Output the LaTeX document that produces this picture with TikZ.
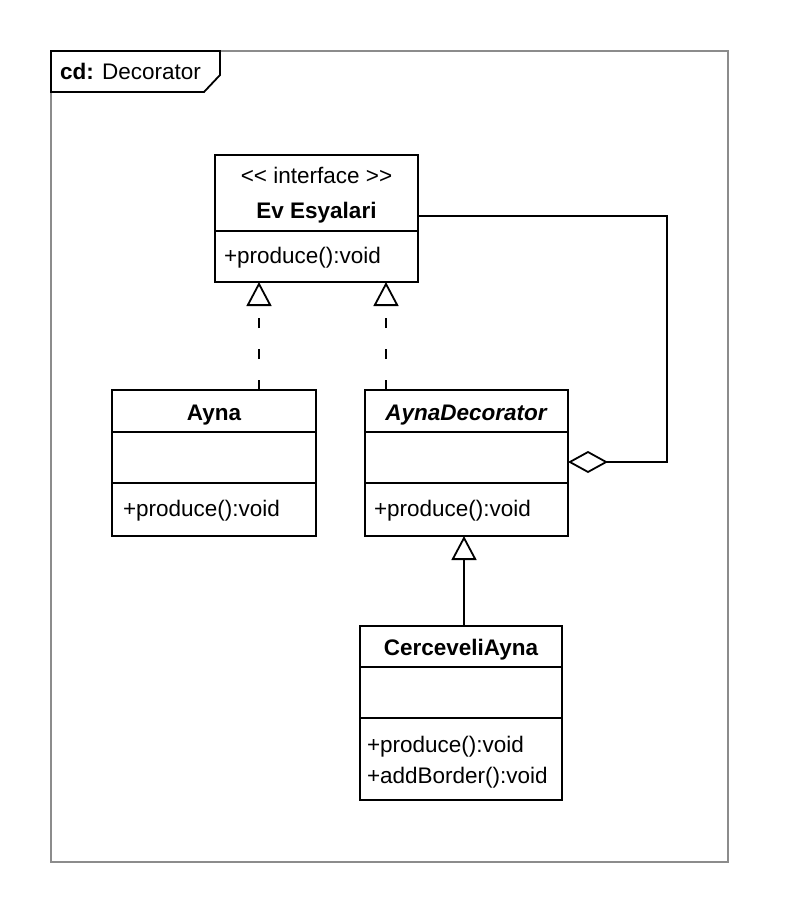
\documentclass[tikz,border=0pt]{standalone}
\usepackage{fontspec}
\setmainfont{Liberation Sans}
\usetikzlibrary{arrows.meta}
\begin{document}
\begin{tikzpicture}[x=1pt,y=-1pt,
  classbox/.style={draw=black, line width=1.8pt, fill=white, inner sep=0pt, outer sep=0pt, anchor=north west},
  txt/.style={inner sep=0pt, outer sep=0pt, font=\fontsize{22.5}{26}\selectfont},
  sepline/.style={draw=black, line width=1.8pt},
  conn/.style={draw=black, line width=1.8pt},
  realize/.style={conn, dash pattern=on 10pt off 21pt, -{Triangle[open, length=24pt, width=25pt]}},
  general/.style={conn, -{Triangle[open, length=24pt, width=25pt]}},
  aggreg/.style={conn, {Diamond[open, length=40pt, width=22pt]}-},
  frameline/.style={draw=black!45, line width=1.8pt}]
\useasboundingbox (0,0) rectangle (801,897);
% frame
\path[frameline] (51,51) rectangle (728,862);
\draw[black, line width=1.8pt, fill=white] (51,51) -- (220,51) -- (220,75) -- (204,92) -- (51,92) -- cycle;
\node[txt, anchor=base west] (hdrtxt) at (60,79) {\textbf{cd:} Decorator};
% class boxes
\node[classbox, minimum width=203pt, minimum height=127pt] (iface) at (215,155) {};
\node[classbox, minimum width=204pt, minimum height=146pt] (ayna) at (112,390) {};
\node[classbox, minimum width=203pt, minimum height=146pt] (adec) at (365,390) {};
\node[classbox, minimum width=202pt, minimum height=174pt] (cerc) at (360,626) {};
% separators
\coordinate (s1) at (0,231);
\coordinate (s2) at (0,432);
\coordinate (s3) at (0,483);
\coordinate (s4) at (0,667);
\coordinate (s5) at (0,718);
\draw[sepline] (iface.west |- s1) -- (iface.east |- s1);
\draw[sepline] (ayna.west |- s2) -- (ayna.east |- s2);
\draw[sepline] (ayna.west |- s3) -- (ayna.east |- s3);
\draw[sepline] (adec.west |- s2) -- (adec.east |- s2);
\draw[sepline] (adec.west |- s3) -- (adec.east |- s3);
\draw[sepline] (cerc.west |- s4) -- (cerc.east |- s4);
\draw[sepline] (cerc.west |- s5) -- (cerc.east |- s5);
% texts
\node[txt, anchor=base] (t1) at (316.5,183) {<\kern0pt< interface >\kern0pt>};
\node[txt, anchor=base] (t2) at (316.5,218) {\textbf{Ev Esyalari}};
\node[txt, anchor=base west] (t3) at (224,263) {+produce():void};
\node[txt, anchor=base] (t4) at (214,420) {\textbf{Ayna}};
\node[txt, anchor=base west] (t5) at (123,516) {+produce():void};
\node[txt, anchor=base] (t6) at (466.5,420) {\textbf{\textit{AynaDecorator}}};
\node[txt, anchor=base west] (t7) at (374,516) {+produce():void};
\node[txt, anchor=base] (t8) at (461,655) {\textbf{CerceveliAyna}};
\node[txt, anchor=base west] (t9) at (367,752) {+produce():void};
\node[txt, anchor=base west] (t10) at (367,783) {+addBorder():void};
% connectors
\coordinate (xa) at (259,0);
\coordinate (xb) at (386,0);
\coordinate (xc) at (464,0);
\coordinate (aggtop) at (667,216);
\coordinate (aggbot) at (667,462);
\draw[realize] (ayna.north -| xa) -- (iface.south -| xa);
\draw[realize] (adec.north -| xb) -- (iface.south -| xb);
\draw[general] (cerc.north -| xc) -- (adec.south -| xc);
\draw[aggreg] (adec.east |- aggbot) -- (aggbot) -- (aggtop) -- (iface.east |- aggtop);
\end{tikzpicture}
\end{document}
